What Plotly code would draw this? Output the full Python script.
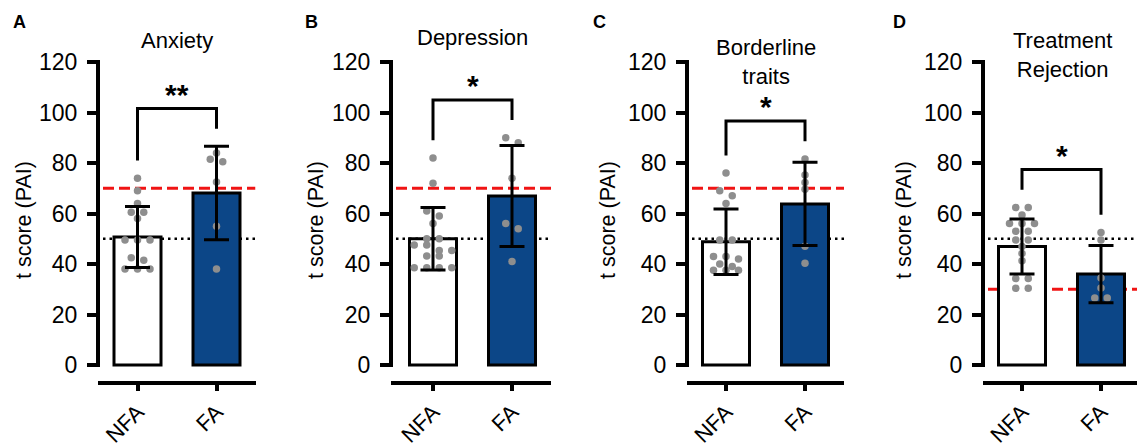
import plotly.graph_objects as go

# ---------------- data ----------------
categories = ["NFA", "FA"]
panel_letters = ["A", "B", "C", "D"]
panel_titles = ["Anxiety", "Depression", "Borderline<br>traits", "Treatment<br>Rejection"]
sig_labels = ["**", "*", "*", "*"]

mean_anx = [50.7, 68.1]
sd_anx = [12.1, 18.5]
mean_dep = [50.0, 66.9]
sd_dep = [12.4, 20.0]
mean_bor = [48.8, 63.8]
sd_bor = [13.0, 16.5]
mean_rej = [46.9, 36.0]
sd_rej = [10.9, 11.3]

anx_nfa = [74, 69, 64, 60.5, 60.5, 58, 49.5, 49.5, 49.5, 42.5, 41.5, 38, 38, 38]
anx_fa = [84, 81.5, 80.5, 72.5, 55, 38]
dep_nfa = [82, 72, 61, 59, 56, 50, 50, 47.5, 47.5, 45.3, 45.3, 43.2, 43.2, 38.5, 38.5, 38.5, 38.5]
dep_fa = [90, 88, 74, 56, 54, 41]
bor_nfa = [76, 69, 67, 64, 49.5, 49.5, 43, 43, 42, 40, 39, 37.5, 37.5, 37.5]
bor_fa = [81.6, 75.2, 72.3, 69.6, 47, 40.3]
rej_nfa = [62.4, 62.4, 59.4, 56, 56, 56, 53, 53, 49.5, 49.5, 46.9, 44.2, 41.3, 34.3, 34.3, 30.4, 30.4]
rej_fa = [52.5, 49.5, 34.5, 30.5, 26.5, 26.5]

normal_line = [50, 50, 50, 50]
cutoff_line = [70, 70, 70, 30]

y_ticks = [0, 20, 40, 60, 80, 100, 120]

# ---------------- layout constants ----------------
W, H = 1137, 446
FONT = "Liberation Sans, Arial, Helvetica, sans-serif"
BLUE = "#0c4687"
DOT = "#8e8e8e"
RED = "#f01414"
Y0_PX = 365.0          # pixel row of value 0
YPX = 2.525            # pixels per unit
XPX = 79.0             # pixels per category step
BOTTOM_PX = 380.5
TOP_PX = 58.0
axis_px = [98, 391, 687, 983]
cat0_px = [137.5, 433, 726, 1022]

ymin = -(BOTTOM_PX - Y0_PX) / YPX
ymax = (Y0_PX - TOP_PX) / YPX
ydom = [1 - BOTTOM_PX / H, 1 - TOP_PX / H]


def px_x(x):
    return x / W


def px_y(y):
    return 1 - y / H


def swarm(values, tol=2.3, spacing_px=12.5):
    """GraphPad-like row scatter: near-equal values share a centred row."""
    order = sorted(range(len(values)), key=lambda i: -values[i])
    rows = []
    for i in order:
        if rows and values[rows[-1][0]] - values[i] <= tol:
            rows[-1].append(i)
        else:
            rows.append([i])
    offs = [0.0] * len(values)
    for row in rows:
        n = len(row)
        for j, i in enumerate(row):
            offs[i] = (j - (n - 1) / 2) * spacing_px / XPX
    return offs


panels = [
    dict(mean=mean_anx, sd=sd_anx, nfa=anx_nfa, fa=anx_fa),
    dict(mean=mean_dep, sd=sd_dep, nfa=dep_nfa, fa=dep_fa),
    dict(mean=mean_bor, sd=sd_bor, nfa=bor_nfa, fa=bor_fa),
    dict(mean=mean_rej, sd=sd_rej, nfa=rej_nfa, fa=rej_fa),
]

title_pos = [(177, 40), (472.5, 37), (766, 62), (1062, 55)]
letter_pos = [(11, 22.5), (303, 22), (591, 22), (891, 22)]
ytitle_x = [24, 316, 608, 904]

fig = go.Figure()
shapes = []
annotations = []
BAR_W = (50 - 3) / XPX

for i, p in enumerate(panels):
    n = i + 1
    xa = "x" if n == 1 else f"x{n}"
    ya = "y" if n == 1 else f"y{n}"
    xname = "xaxis" if n == 1 else f"xaxis{n}"
    yname = "yaxis" if n == 1 else f"yaxis{n}"

    left_px = axis_px[i]
    right_px = min(W, cat0_px[i] + XPX + 39)
    xr = [(left_px - cat0_px[i]) / XPX, (right_px - cat0_px[i]) / XPX]

    fig.update_layout(**{
        xname: dict(domain=[px_x(left_px), px_x(right_px)], range=xr, anchor=ya,
                    automargin=False,
                    tickmode="array", tickvals=[0, 1], ticktext=categories, tickangle=-45,
                    ticks="outside", ticklen=6, tickwidth=4, tickcolor="black",
                    showline=True, linewidth=4, linecolor="black",
                    showgrid=False, zeroline=False, ticklabelstandoff=0,
                    tickfont=dict(family=FONT, size=22, color="black"), fixedrange=True),
        yname: dict(domain=ydom, range=[ymin, ymax], anchor=xa,
                    automargin=False,
                    tickmode="array", tickvals=y_ticks,
                    ticks="outside", ticklen=10, tickwidth=4, tickcolor="black",
                    showline=False, showgrid=False, zeroline=False,
                    ticklabelstandoff=5,
                    tickfont=dict(family=FONT, size=23, color="black"), fixedrange=True),
    })

    # bars
    fig.add_trace(go.Bar(x=[0, 1], y=p["mean"], width=BAR_W,
                         marker=dict(color=["white", BLUE], line=dict(color="black", width=3)),
                         xaxis=xa, yaxis=ya, showlegend=False, hoverinfo="skip"))
    # individual points
    for k, vals in enumerate([p["nfa"], p["fa"]]):
        offs = swarm(vals)
        fig.add_trace(go.Scatter(x=[k + o for o in offs], y=vals, mode="markers",
                                 marker=dict(size=7.5, color=DOT),
                                 xaxis=xa, yaxis=ya, showlegend=False, cliponaxis=False))
    # error bars (mean +/- SD)
    fig.add_trace(go.Scatter(x=[0, 1], y=p["mean"], mode="markers",
                             marker=dict(size=2, color="rgba(0,0,0,0)"),
                             error_y=dict(type="data", array=p["sd"], visible=True,
                                          color="black", thickness=3, width=12.5),
                             xaxis=xa, yaxis=ya, showlegend=False))

    # reference lines (behind bars)
    x0 = xr[0] + 5 / XPX
    shapes.append(dict(type="line", xref=xa, yref=ya, x0=x0, x1=xr[1],
                       y0=cutoff_line[i], y1=cutoff_line[i], layer="below",
                       line=dict(color=RED, width=3, dash="11px,5px")))
    shapes.append(dict(type="line", xref=xa, yref=ya, x0=x0, x1=xr[1],
                       y0=normal_line[i], y1=normal_line[i], layer="below",
                       line=dict(color="black", width=2.5, dash="2.5px,4px")))

    # y axis line (only 0..120)
    ext = 2 / YPX
    shapes.append(dict(type="line", xref=f"{xa} domain", yref=ya, x0=0, x1=0,
                       y0=y_ticks[0] - ext, y1=y_ticks[-1] + ext,
                       line=dict(color="black", width=4)))

    # significance bracket
    lb = max(max(p["nfa"]), p["mean"][0] + p["sd"][0]) + 7
    rb = max(max(p["fa"]), p["mean"][1] + p["sd"][1]) + 7
    top = max(lb, rb) + 8
    shapes.append(dict(type="path", xref=xa, yref=ya,
                       path=f"M 0,{lb} L 0,{top} L 1,{top} L 1,{rb}",
                       line=dict(color="black", width=3)))
    annotations.append(dict(x=0.5, y=top + 6, xref=xa, yref=ya, text=sig_labels[i],
                            showarrow=False, yshift=-1, xanchor="center", yanchor="middle",
                            font=dict(family=FONT, size=30, color="black", weight="bold")))

    # panel title, letter, y-axis title
    tx, ty = title_pos[i]
    annotations.append(dict(x=px_x(tx), y=px_y(ty), xref="paper", yref="paper",
                            text=panel_titles[i], showarrow=False, xanchor="center",
                            yanchor="middle", align="center",
                            font=dict(family=FONT, size=22, color="black")))
    lx, ly = letter_pos[i]
    annotations.append(dict(x=px_x(lx), y=px_y(ly), xref="paper", yref="paper",
                            text=f"<b>{panel_letters[i]}</b>", showarrow=False,
                            xanchor="left", yanchor="middle",
                            font=dict(family=FONT, size=18, color="black")))
    annotations.append(dict(x=px_x(ytitle_x[i]), y=px_y(220), xref="paper", yref="paper",
                            text="t score (PAI)", showarrow=False, textangle=-90,
                            xanchor="center", yanchor="middle",
                            font=dict(family=FONT, size=21.5, color="black")))

fig.update_layout(template="none", width=W, height=H, margin=dict(l=0, r=0, t=0, b=0),
                  paper_bgcolor="white", plot_bgcolor="white",
                  shapes=shapes, annotations=annotations, showlegend=False,
                  font=dict(family=FONT, color="black"))

fig.write_html("out.html", config={"displayModeBar": False},
               post_script="document.body.style.margin='0';document.body.style.padding='0';"
                           "document.documentElement.style.overflow='hidden';")
